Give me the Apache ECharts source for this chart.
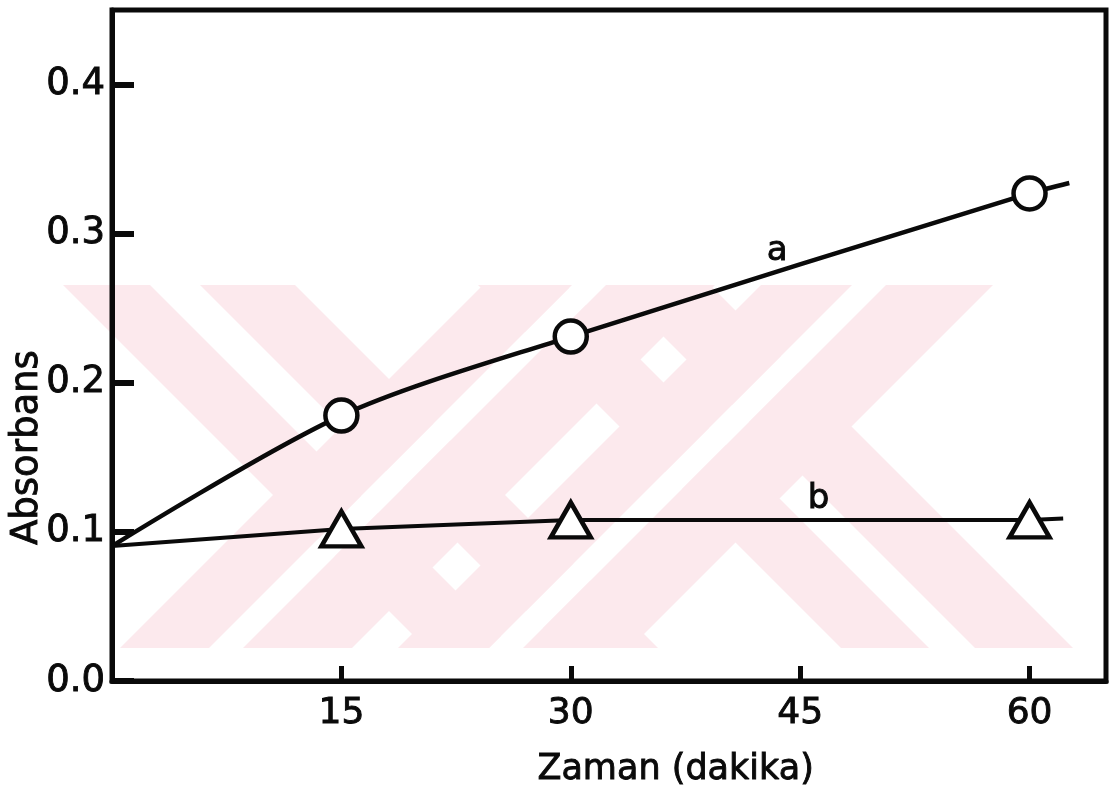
<!DOCTYPE html>
<html>
<head>
<meta charset="utf-8">
<script src="https://cdn.jsdelivr.net/npm/echarts@6/dist/echarts.min.js"></script>
<style>
html,body{margin:0;padding:0;background:#fff;}
#c{width:1115px;height:800px;}
</style>
</head>
<body>
<div id="c"></div>
<script>
// ---- data ----
const timeA = [0, 15, 30, 60, 62.6];
const absA  = [0.0905, 0.178, 0.231, 0.327, 0.334];
const timeB = [0, 15, 30, 60, 62.2];
const absB  = [0.0905, 0.102, 0.108, 0.108, 0.109];
const markedA = [false, true, true, true, false];
const markedB = [false, true, true, true, false];
const xTicks = [15, 30, 45, 60];
const yTicks = [0, 0.1, 0.2, 0.3, 0.4];
const curveNames = ['a', 'b'];
const curveNamePos = [[43.5, 0.288], [46.2, 0.122]];
const xTitle = 'Zaman (dakika)';
const yTitle = 'Absorbans';

const FONT = 'DejaVu Sans';
const ink = '#0a0a0a';

function pts(xs, ys, marked) {
  return xs.map((x, i) => ({
    value: [x, ys[i]],
    symbol: marked[i] ? undefined : 'none'
  }));
}

// faint background watermark of the scanned page (decoration only)
const pink = '#fce9ed';
const WM_TOP = 285, WM_H = 363;
// each stroke: [outer-left, inner-left, inner-right, outer-right] at the top edge
const backStrokes = [[63,150,200,295],[478,566,612,710]];   // "\" strokes
const fwdStrokes  = [[483,572,606,715],[761,852,886,993]];  // "/" strokes
const wm = [];
function para(a, b, dir, fill, z) {
  const s = dir * WM_H;
  wm.push({type:'polygon', z: z, silent:true,
    shape:{points:[[a,WM_TOP],[b,WM_TOP],[b+s,WM_TOP+WM_H],[a+s,WM_TOP+WM_H]]},
    style:{fill: fill}});
}
backStrokes.forEach(s => { para(s[0], s[1], 1, pink, -12); para(s[2], s[3], 1, pink, -12); });
fwdStrokes.forEach(s => {
  para(s[1], s[2], -1, '#fff', -11);
  para(s[0], s[1], -1, pink, -10); para(s[2], s[3], -1, pink, -10);
});

const txt = (size) => ({color: ink, fontFamily: FONT, fontSize: size,
  textBorderColor: ink, textBorderWidth: 0.9});

const nameLabel = (i) => ({
  symbol: 'rect', symbolSize: 1, itemStyle: {color: 'rgba(0,0,0,0)'},
  data: [{coord: curveNamePos[i], value: curveNames[i]}],
  label: Object.assign({show: true, formatter: curveNames[i], position: 'inside'}, txt(34))
});

const chart = echarts.init(document.getElementById('c'));
chart.setOption({
  animation: false,
  backgroundColor: '#fff',
  graphic: wm.concat([
    {type:'text', left: 537, top: 752, z: 10,
      style:{text: xTitle, font: '35px "' + FONT + '"', fill: ink, stroke: ink, lineWidth: 0.9}},
    {type:'text', x: 9, y: 545, rotation: Math.PI/2, z: 10,
      style:{text: yTitle, font: '37px "' + FONT + '"', fill: ink, stroke: ink, lineWidth: 0.9, textVerticalAlign:'top'}}
  ]),
  grid: {left: 112, right: 9, top: 10, bottom: 119, show: true,
    borderColor: ink, borderWidth: 5, backgroundColor: 'transparent'},
  xAxis: {
    type: 'value', min: 0, max: 65,
    axisLine: {show: true, lineStyle: {color: ink, width: 5}},
    splitLine: {show: false},
    axisTick: {show: true, inside: true, length: 15, customValues: xTicks,
      lineStyle: {color: ink, width: 5}},
    axisLabel: Object.assign({customValues: xTicks, margin: 15}, txt(36))
  },
  yAxis: {
    type: 'value', min: 0, max: 0.45,
    axisLine: {show: true, lineStyle: {color: ink, width: 5}},
    splitLine: {show: false},
    axisTick: {show: true, inside: true, length: 22, customValues: yTicks,
      lineStyle: {color: ink, width: 6}},
    axisLabel: Object.assign({customValues: yTicks, margin: 7,
      formatter: v => v.toFixed(1)}, txt(37))
  },
  series: [
    {
      name: curveNames[0], type: 'line', smooth: 0.3,
      data: pts(timeA, absA, markedA),
      symbol: 'circle', symbolSize: 32,
      lineStyle: {color: ink, width: 4.5},
      itemStyle: {color: '#fff', borderColor: ink, borderWidth: 4.5},
      markPoint: nameLabel(0)
    },
    {
      name: curveNames[1], type: 'line',
      data: pts(timeB, absB, markedB),
      symbol: 'triangle', symbolSize: [40, 35],
      lineStyle: {color: ink, width: 4},
      itemStyle: {color: '#fff', borderColor: ink, borderWidth: 4.5},
      markPoint: nameLabel(1)
    }
  ]
});
</script>
</body>
</html>
